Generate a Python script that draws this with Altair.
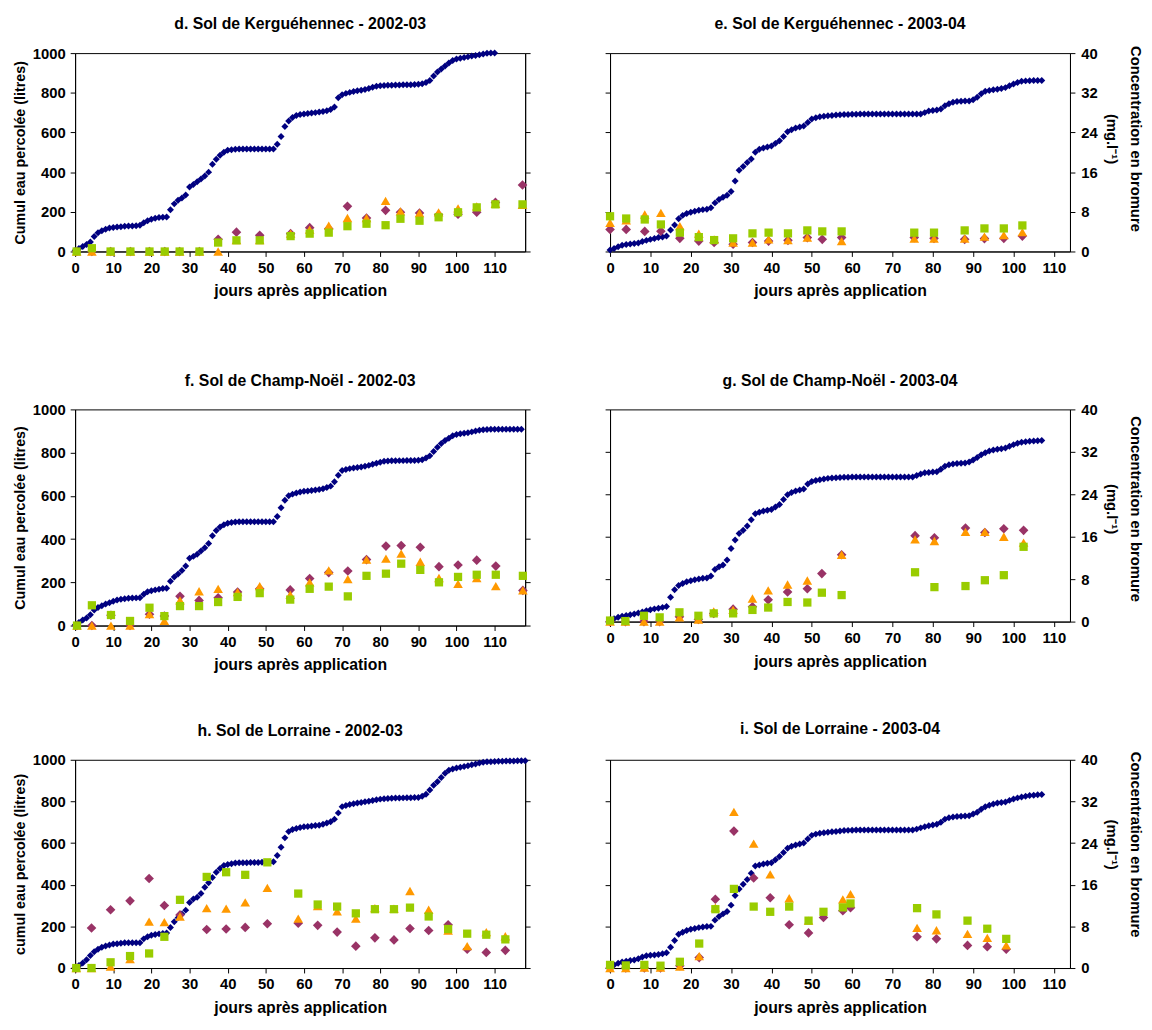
import altair as alt
import pandas as pd

FONT = "Liberation Sans"
NAVY = "#000080"
PURPLE = "#993366"
ORANGE = "#FF9900"
GREEN = "#99CC00"

X_TICKS = [0, 10, 20, 30, 40, 50, 60, 70, 80, 90, 100, 110]
CUM_TICKS = [0, 200, 400, 600, 800, 1000]
CONC_TICKS = [0, 8, 16, 24, 32, 40]
X_TITLE = "jours après application"
CONC_TITLE = ["Concentration en bromure", "(mg.l⁻¹)"]

# ---------- d. Kerguéhennec 2002-03 (cumul, one value per day from day 0) ----------
d_cum = [5, 15, 25, 35, 48, 75, 95, 105, 112, 118,
         121, 123, 125, 127, 128, 129, 130, 132, 145, 155,
         162, 168, 171, 173, 174, 210, 240, 258, 270, 285,
         325, 338, 352, 365, 380, 400, 440, 465, 485, 500,
         510, 513, 515, 517, 517, 517, 517, 517, 517, 517,
         517, 517, 517, 540, 580, 630, 658, 675, 685, 690,
         693, 695, 698, 700, 703, 706, 710, 716, 728, 775,
         790, 797, 802, 806, 810, 813, 817, 822, 828, 833,
         836, 837, 838, 838, 839, 839, 840, 840, 841, 842,
         843, 845, 852, 862, 885, 905, 920, 935, 950, 963,
         970, 974, 978, 981, 985, 988, 992, 996, 999, 1000, 1000]
d_days = [0.4, 4.4, 9.3, 14.5, 19.5, 23.5, 27.4, 32.6, 37.5, 42.3, 48.4, 56.5,
          61.5, 66.5, 71.4, 76.4, 81.4, 85.3, 90.3, 95.3, 100.4, 105.3, 110.2, 117.3]
d_dia = [0, 0, 0, 0, 0, 0, 0, 0, 2.45, 3.9, 3.25, 3.6,
         4.8, 4.6, 9.1, 6.75, 8.3, 7.9, 7.75, 7.4, 7.5, 7.9, 9.9, 13.4]
d_tri = [0, 0, 0, 0, 0, 0, 0, 0, 0, 2.3, 2.3, 3.6,
         4.4, 5.2, 6.75, 6.75, 10.2, 8.1, 7.75, 7.9, 8.7, 9.1, 9.6, 9.4]
d_sq = [0, 0.66, 0, 0, 0, 0, 0, 0, 1.8, 2.25, 2.25, 3.1,
        3.6, 3.8, 5.1, 5.6, 5.3, 6.6, 6.2, 6.9, 7.9, 8.9, 9.5, 9.5]

# ---------- e. Kerguéhennec 2003-04 ----------
e_cum = [8, 15, 24, 31, 35, 38, 40, 43, 50, 56,
         61, 66, 70, 73, 78, 108, 134, 165, 182, 191,
         198, 203, 208, 211, 213, 220, 245, 262, 273, 283,
         302, 355, 410, 428, 448, 466, 500, 515, 522, 527,
         532, 545, 558, 580, 603, 614, 622, 627, 633, 650,
         668, 674, 679, 682, 684, 686, 688, 689, 690, 691,
         692, 692, 693, 693, 693, 693, 693, 693, 693, 693,
         693, 693, 693, 693, 693, 693, 693, 693, 700, 708,
         711, 713, 718, 735, 745, 752, 756, 757, 758, 759,
         765, 778, 795, 808, 812, 815, 818, 822, 826, 835,
         844, 852, 858, 860, 861, 862, 862, 862]
e_days = [0, 4.0, 8.6, 12.6, 17.3, 22.0, 25.8, 30.5, 35.3, 39.3, 44.1, 48.9,
          52.6, 57.4, 75.4, 80.3, 87.9, 92.8, 97.6, 102.2]
e_dia = [4.45, 4.45, 4.05, 4.1, 2.65, 2.1, 1.8, 1.45, 1.8, 2.1, 2.25, 2.8,
         2.45, 2.8, 2.8, 2.65, 2.45, 2.6, 2.65, 3.1]
e_tri = [5.8, 6.3, 7.45, 7.8, 5.1, 3.6, 2.45, 1.8, 1.8, 2.45, 2.3, 2.8,
         None, 2.1, 2.6, 2.6, 2.6, 3.0, 3.3, 3.9]
e_sq = [7.1, 6.65, 6.45, 5.45, 3.8, 2.9, 2.3, 2.65, 3.65, 3.8, 3.65, 4.25,
        4.05, 4.05, 3.8, 3.8, 4.25, 4.65, 4.65, 5.25]

# ---------- f. Champ-Noël 2002-03 ----------
f_cum = [3, 14, 26, 35, 50, 72, 83, 92, 100, 106,
         112, 118, 122, 124, 126, 127, 128, 129, 145, 156,
         161, 165, 168, 171, 173, 205, 225, 238, 255, 276,
         311, 320, 330, 345, 360, 380, 415, 440, 456, 466,
         473, 477, 479, 480, 480, 480, 480, 480, 480, 480,
         480, 480, 480, 505, 545, 580, 600, 608, 613, 618,
         621, 623, 625, 627, 629, 633, 639, 645, 665, 695,
         717, 722, 726, 729, 731, 734, 737, 741, 746, 751,
         756, 760, 761, 762, 762, 763, 763, 764, 764, 764,
         765, 767, 775, 785, 805, 825, 842, 856, 866, 878,
         884, 887, 890, 892, 896, 900, 904, 906, 907, 908,
         908, 908, 908, 908, 908, 908, 908, 908]
f_days = [0.5, 4.4, 9.4, 14.4, 19.5, 23.4, 27.5, 32.5, 37.5, 42.6, 48.4, 56.4,
          61.5, 66.5, 71.5, 76.4, 81.5, 85.5, 90.5, 95.4, 100.4, 105.3, 110.3, 117.4]
f_dia = [0, 0, 1.9, 0, 2.1, 1.75, 5.4, 4.65, 5.15, 6.2, 6.8, 6.6,
         8.7, 9.8, 10.1, 12.2, 14.7, 14.8, 14.5, 10.9, 11.2, 12.1, 11.0, 6.5]
f_tri = [0, 0, 0, 0, 2.1, 0.85, 4.65, 6.35, 6.8, 6.2, 7.3, 5.7,
         8.0, 10.2, 8.6, 12.2, 12.4, 13.3, 11.8, 8.8, 7.7, 8.8, 7.3, 6.5]
f_sq = [0, 3.75, 1.95, 0.85, 3.3, 1.75, 3.6, 3.6, 4.35, 5.3, 6.0, 4.8,
        6.8, 7.2, 5.4, 9.2, 9.6, 11.45, 10.3, 8.0, 9.0, 9.4, 9.4, 9.2]

# ---------- g. Champ-Noël 2003-04 ----------
g_cum = [8, 14, 20, 25, 29, 32, 36, 40, 45, 51,
         56, 60, 63, 67, 71, 115, 150, 170, 180, 188,
         193, 197, 201, 204, 205, 215, 245, 258, 267, 290,
         345, 385, 415, 430, 450, 480, 508, 515, 521, 525,
         528, 540, 552, 575, 598, 608, 615, 620, 625, 648,
         660, 665, 669, 672, 675, 677, 678, 679, 680, 680,
         681, 681, 681, 681, 681, 681, 681, 681, 681, 681,
         681, 681, 681, 681, 681, 681, 688, 696, 701, 703,
         705, 706, 718, 732, 739, 743, 745, 746, 747, 752,
         762, 773, 786, 796, 804, 809, 812, 815, 818, 826,
         834, 840, 845, 848, 850, 851, 852, 853]
g_days = [0, 3.8, 8.4, 12.3, 17.2, 21.9, 25.7, 30.5, 35.3, 39.2, 44.0, 48.9,
          52.5, 57.4, 75.6, 80.4, 88.1, 92.9, 97.6, 102.5]
g_dia = [0, 0, 0, 0, 0.9, 0.4, 1.55, 2.35, 2.8, 4.1, 5.6, 6.2,
         9.05, 12.6, 16.2, 15.8, 17.65, 16.8, 17.5, 17.2]
g_tri = [0, 0, 0, 0, 0.8, 0.4, 1.9, 2.2, 4.35, 5.9, 7.0, 7.75,
         None, 12.6, 15.5, 15.2, 16.9, 16.9, 16.0, 14.9]
g_sq = [0.2, 0.1, 1.1, 0.8, 1.75, 1.1, 1.55, 1.55, 2.2, 2.65, 3.7, 3.6,
        5.45, 5.0, 9.3, 6.5, 6.7, 7.8, 8.75, 14.1]

# ---------- h. Lorraine 2002-03 ----------
h_cum = [3, 12, 24, 40, 60, 78, 90, 100, 106, 111,
         115, 117, 119, 121, 121, 121, 121, 121, 140, 150,
         157, 161, 164, 166, 168, 195, 222, 242, 260, 278,
         315, 332, 340, 358, 388, 410, 435, 460, 478, 492,
         497, 501, 504, 505, 506, 506, 507, 507, 507, 508,
         508, 508, 510, 540, 580, 625, 655, 665, 670, 675,
         678, 680, 682, 684, 686, 690, 696, 702, 715, 745,
         775, 780, 785, 789, 792, 795, 798, 801, 804, 808,
         811, 813, 814, 815, 816, 816, 817, 818, 818, 819,
         819, 825, 835, 855, 878, 895, 915, 935, 950, 956,
         960, 964, 968, 971, 976, 980, 985, 988, 990, 991,
         992, 993, 993, 994, 994, 994, 995, 995, 995]
h_days = [0.3, 4.3, 9.3, 14.4, 19.4, 23.4, 27.5, 34.5, 39.6, 44.6, 50.4, 58.5,
          63.6, 68.7, 73.6, 78.6, 83.6, 87.8, 92.7, 97.8, 102.8, 107.8, 112.8]
h_dia = [0, 7.7, 11.2, 12.9, 17.2, 12.0, 10.2, 7.4, 7.5, 7.8, 8.5, 8.6,
         8.2, 6.9, 4.2, 5.8, 5.4, 7.6, 7.2, 8.3, 3.6, 3.0, 3.4]
h_tri = [0, 0, 0.3, 1.7, 8.9, 8.8, 9.9, 11.5, 11.4, 12.6, 15.4, 9.5,
         11.9, 10.9, 9.5, 11.5, 11.4, 14.8, 11.2, 7.2, 4.2, 6.9, 6.1]
h_sq = [0, 0, 1.1, 2.3, 2.8, 6.0, 13.1, 17.5, 18.4, 17.9, 20.3, 14.3,
        12.2, 11.8, 10.5, 11.3, 11.3, 11.6, 9.9, 7.5, 6.6, 6.4, 5.5]

# ---------- i. Lorraine 2003-04 ----------
i_cum = [8, 15, 23, 29, 33, 36, 39, 45, 53, 59,
         61, 63, 65, 69, 73, 100, 132, 162, 172, 180,
         186, 190, 194, 197, 199, 200, 230, 247, 260, 271,
         302, 348, 380, 402, 425, 455, 490, 495, 500, 503,
         506, 520, 535, 555, 575, 585, 591, 596, 600, 620,
         637, 643, 647, 650, 652, 654, 656, 658, 660, 661,
         662, 663, 663, 663, 663, 663, 663, 663, 663, 663,
         663, 663, 663, 663, 663, 663, 667, 673, 678, 683,
         687, 690, 700, 715, 722, 725, 728, 729, 730, 731,
         740, 748, 762, 774, 782, 788, 792, 795, 797, 805,
         812, 817, 821, 825, 828, 830, 832, 833]
i_days = [0, 3.9, 8.5, 12.5, 17.3, 22.1, 26.1, 30.7, 35.6, 39.7, 44.4, 49.2,
          52.9, 57.7, 59.6, 76.1, 80.9, 88.6, 93.5, 98.2]
i_dia = [0, 0, 0, 0, 0.45, 2.0, 13.2, 26.3, 17.3, 13.5, 8.3, 6.75,
         9.7, 11.0, 11.6, 6.0, 5.6, 4.35, 4.1, 3.6]
i_tri = [0, 0, 0.1, 0.1, 0.3, 2.3, 11.6, 30.0, 23.9, 18.0, 13.4, 9.1,
         None, 13.2, 14.2, 7.7, 7.25, 6.55, 5.8, 4.35]
i_sq = [0.6, 0.5, 0.6, 0.45, 1.2, 4.7, 11.3, 15.2, 11.8, 10.8, 11.8, 9.1,
        10.8, 11.65, 12.4, 11.5, 10.3, 9.1, 7.55, 5.6]

AXIS_STYLE = dict(
    domainColor="black", tickColor="black", labelColor="black", titleColor="black",
    labelFont=FONT, titleFont=FONT, labelFontWeight="bold", titleFontWeight="bold",
    labelFontSize=15, grid=False, tickSize=5, domainWidth=1, tickWidth=1, format="d",
)


def make_panel(title, cum, sdays, dia, tri, sq, side, xmax, w, h, ytitle=None,
               conc_title_shift=0):
    cdf = pd.DataFrame({"day": list(range(len(cum))), "cum": cum})
    sdf = pd.DataFrame({"day": sdays, "dia": dia, "tri": tri, "sq": sq})

    def xenc():
        return alt.X("day:Q",
                     scale=alt.Scale(domain=[0, xmax], nice=False, zero=True),
                     axis=alt.Axis(values=X_TICKS, title=X_TITLE, labelPadding=4,
                                   titlePadding=8, titleFontSize=16, labelFlush=False,
                                   **AXIS_STYLE))

    if side == "left":
        cum_axis = alt.Axis(orient="left", values=CUM_TICKS, title=ytitle,
                            labelPadding=5, titlePadding=5, titleFontSize=14.5,
                            **AXIS_STYLE)
        conc_axis = alt.Axis(orient="right", values=CONC_TICKS, labels=False,
                             title=None, **AXIS_STYLE)
    else:
        cum_axis = alt.Axis(orient="left", values=CUM_TICKS, labels=False,
                            title=None, **AXIS_STYLE)
        conc_axis = alt.Axis(orient="right", values=CONC_TICKS, title=CONC_TITLE,
                             labelPadding=6, titlePadding=6, titleLineHeight=25,
                             titleFontSize=15, titleY=h / 2 + conc_title_shift,
                             **AXIS_STYLE)

    cum_layer = alt.Chart(cdf).mark_point(
        shape="diamond", filled=True, size=50, color=NAVY, opacity=1, strokeWidth=0
    ).encode(
        x=xenc(),
        y=alt.Y("cum:Q", scale=alt.Scale(domain=[0, 1000], nice=False), axis=cum_axis),
    )

    def conc_layer(field, shape, color, size):
        return alt.Chart(sdf).mark_point(
            shape=shape, filled=True, size=size, color=color, opacity=1, strokeWidth=0
        ).encode(
            x=xenc(),
            y=alt.Y(f"{field}:Q", scale=alt.Scale(domain=[0, 40], nice=False),
                    axis=conc_axis),
        )

    conc = alt.layer(
        conc_layer("dia", "diamond", PURPLE, 95),
        conc_layer("tri", "triangle-up", ORANGE, 95),
        conc_layer("sq", "square", GREEN, 70),
    )
    return alt.layer(cum_layer, conc).resolve_scale(y="independent").properties(
        width=w, height=h,
        title=alt.TitleParams(title, anchor="middle", offset=14, font=FONT,
                              fontSize=16, fontWeight="bold", color="black"),
    )


LW, RW = 456, 466
d = make_panel("d. Sol de Kerguéhennec - 2002-03", d_cum, d_days, d_dia, d_tri, d_sq,
               "left", 118, LW, 201, "Cumul eau percolée (litres)")
e = make_panel("e. Sol de Kerguéhennec - 2003-04", e_cum, e_days, e_dia, e_tri, e_sq,
               "right", 114, RW, 201, conc_title_shift=-14)
f = make_panel("f. Sol de Champ-Noël - 2002-03", f_cum, f_days, f_dia, f_tri, f_sq,
               "left", 118, LW, 219, "Cumul eau percolée (litres)")
g = make_panel("g. Sol de Champ-Noël - 2003-04", g_cum, g_days, g_dia, g_tri, g_sq,
               "right", 114, RW, 215, conc_title_shift=-7)
hh = make_panel("h. Sol de Lorraine - 2002-03", h_cum, h_days, h_dia, h_tri, h_sq,
                "left", 118, LW, 211, "cumul eau percolée (litres)")
ii = make_panel("i. Sol de Lorraine - 2003-04", i_cum, i_days, i_dia, i_tri, i_sq,
                "right", 114, RW, 211, conc_title_shift=-20)

row1 = alt.hconcat(d, e, spacing=74)
row2 = alt.hconcat(f, g, spacing=74)
row3 = alt.hconcat(hh, ii, spacing=74)

chart = alt.vconcat(row1, alt.vconcat(row2, row3, spacing=47), spacing=73).properties(
    padding={"left": 4, "top": 0, "right": 0, "bottom": 0}
).configure_view(
    stroke="black", strokeWidth=1
)

chart.save("out.html", embed_options={"renderer": "svg", "actions": False})
